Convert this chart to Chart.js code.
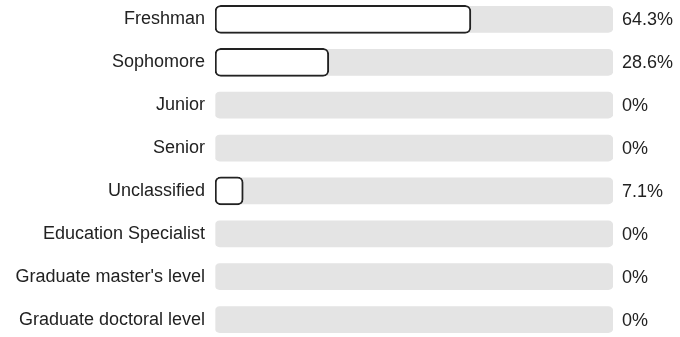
<!DOCTYPE html>
<html>
<head>
<meta charset="utf-8">
<script src="https://cdn.jsdelivr.net/npm/chart.js@4.4.0/dist/chart.umd.min.js"></script>
<style>
    html, body { margin: 0; padding: 0; background: #fff; overflow: hidden; }
    #wrap { width: 680px; height: 343px; margin-top: -2px; }
</style>
</head>
<body>
<div id="wrap"><canvas id="chart1"></canvas></div>
<script>
"use strict";

// data
const categories = [
    "Freshman",
    "Sophomore",
    "Junior",
    "Senior",
    "Unclassified",
    "Education Specialist",
    "Graduate master's level",
    "Graduate doctoral level",
];
const percentValues = [64.3, 28.6, 0, 0, 7.1, 0, 0, 0];
const percentLabels = ["64.3%", "28.6%", "0%", "0%", "7.1%", "0%", "0%", "0%"];
const trackValues = [100, 100, 100, 100, 100, 100, 100, 100];

const fontFamily = "'Liberation Sans', Arial, sans-serif";

// 右側のパーセント表示
const valueLabelPlugin = {
    id: "valueLabels",
    afterDatasetsDraw(chart) {
        const ctx = chart.ctx;
        const xScale = chart.scales.x;
        const yScale = chart.scales.y;
        ctx.save();
        ctx.font = "18px " + fontFamily;
        ctx.fillStyle = "#222";
        ctx.textAlign = "left";
        ctx.textBaseline = "middle";
        percentLabels.forEach((text, index) => {
            ctx.fillText(text, xScale.getPixelForValue(100) + 9, yScale.getPixelForValue(index) + 1);
        });
        ctx.restore();
    },
};

const drawChart = () => {
    const context = document.getElementById("chart1").getContext("2d");
    return new Chart(context, {
        type: "bar",
        data: {
            labels: categories,
            datasets: [
                {
                    label: "value",
                    data: percentValues,
                    backgroundColor: "#ffffff",
                    borderColor: "#222222",
                    borderWidth: (c) => (c.raw > 0 ? 2 : 0),
                    borderRadius: 6,
                    borderSkipped: false,
                    barThickness: 28,
                    grouped: false,
                    order: 0,
                },
                {
                    label: "track",
                    data: trackValues,
                    backgroundColor: "#e4e4e4",
                    borderWidth: 0,
                    borderRadius: 5,
                    borderSkipped: false,
                    barThickness: 26,
                    grouped: false,
                    order: 1,
                },
            ],
        },
        options: {
            indexAxis: "y",
            responsive: true,
            maintainAspectRatio: false,
            animation: false,
            layout: {
                padding: { left: 0, right: 67, top: 0, bottom: 0 },
            },
            plugins: {
                legend: { display: false },
                tooltip: { enabled: false },
            },
            scales: {
                x: {
                    display: false,
                    min: 0,
                    max: 100,
                },
                y: {
                    grid: { display: false, drawTicks: false },
                    border: { display: false },
                    ticks: {
                        padding: 10,
                        color: "#222",
                        font: { family: fontFamily, size: 18 },
                    },
                    afterFit: (scale) => {
                        // ラベルの上下余白を消す
                        scale.paddingTop = 0;
                        scale.paddingBottom = 0;
                        scale.width = 215;
                    },
                },
            },
        },
        plugins: [valueLabelPlugin],
    });
};

drawChart();
</script>
</body>
</html>
